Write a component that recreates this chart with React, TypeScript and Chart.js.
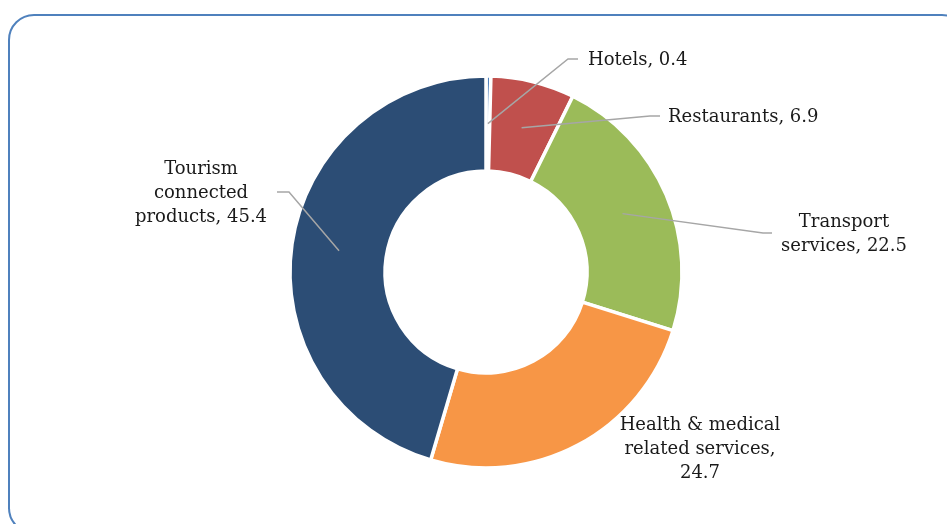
import React, { useEffect, useRef } from "react";
import { Chart, registerables } from "chart.js";

Chart.register(...registerables);

const categories = [
  "Hotels",
  "Restaurants",
  "Transport services",
  "Health & medical related services",
  "Tourism connected products",
];
const values = [0.4, 6.9, 22.5, 24.7, 45.4];
const colors = ["#4F81BD", "#C0504D", "#9BBB59", "#F79646", "#2C4D75"];
// number of words per label line
const labelWordGroups = [[2], [2], [1, 2], [3, 2, 1], [1, 1, 2]];

// label placement relative to the doughnut centre
const labelPlacement = [
  { x: 102, y: -212, align: "left", elbow: [82, -213], end: [92, -213] },
  { x: 182, y: -155, align: "left", elbow: [164, -156], end: [174, -156] },
  { x: 358, y: -38, align: "center", elbow: [277, -39], end: [286, -39] },
  { x: 214, y: 177, align: "center", elbow: null, end: null },
  { x: -285, y: -79, align: "center", elbow: [-197, -80], end: [-209, -80] },
];

function buildLines(i: number): string[] {
  const words = `${categories[i]}, ${values[i].toFixed(1)}`.split(" ");
  const out: string[] = [];
  let k = 0;
  for (const n of labelWordGroups[i]) {
    out.push(words.slice(k, k + n).join(" "));
    k += n;
  }
  return out;
}

const labelPlugin = {
  id: "calloutLabels",
  afterDatasetsDraw(chart: any) {
    const ctx = chart.ctx;
    const meta = chart.getDatasetMeta(0);
    ctx.save();
    meta.data.forEach((arc: any, i: number) => {
      const p = arc.getProps(["x", "y", "startAngle", "endAngle", "innerRadius", "outerRadius"], true);
      const cx = p.x;
      const cy = p.y;
      const mid = (p.startAngle + p.endAngle) / 2;
      const r = (p.innerRadius + p.outerRadius) / 2;
      const ax = cx + Math.cos(mid) * r;
      const ay = cy + Math.sin(mid) * r;
      const pl = labelPlacement[i];
      if (pl.elbow && pl.end) {
        ctx.beginPath();
        ctx.strokeStyle = "#A6A6A6";
        ctx.lineWidth = 1.5;
        ctx.moveTo(ax, ay);
        ctx.lineTo(cx + pl.elbow[0], cy + pl.elbow[1]);
        ctx.lineTo(cx + pl.end[0], cy + pl.end[1]);
        ctx.stroke();
      }
      const lines = buildLines(i);
      const lh = 24;
      ctx.font = '18px "DejaVu Serif"';
      ctx.fillStyle = "#1A1A1A";
      ctx.textAlign = pl.align;
      ctx.textBaseline = "middle";
      const top = cy + pl.y - ((lines.length - 1) * lh) / 2;
      lines.forEach((ln, j) => {
        ctx.fillText(ln, cx + pl.x, top + j * lh);
      });
    });
    ctx.restore();
  },
};

export default function App() {
  const ref = useRef<HTMLCanvasElement | null>(null);
  useEffect(() => {
    if (!ref.current) return;
    const chart = new Chart(ref.current, {
      type: "doughnut",
      data: {
        labels: categories,
        datasets: [
          {
            data: values,
            backgroundColor: colors,
            borderColor: "#FFFFFF",
            borderWidth: 3.5,
          },
        ],
      },
      options: {
        responsive: false,
        animation: false,
        radius: 196,
        cutout: "51.5%",
        layout: { padding: { left: 25, right: 0, top: 20, bottom: 0 } },
        plugins: {
          legend: { display: false },
          tooltip: { enabled: false },
        },
      } as any,
      plugins: [labelPlugin as any],
    });
    return () => chart.destroy();
  }, []);
  return (
    <div
      style={{
        position: "fixed",
        left: 0,
        top: 0,
        width: 947,
        height: 524,
        overflow: "hidden",
        background: "#FFFFFF",
      }}
    >
      <div
        style={{
          position: "absolute",
          left: 8,
          top: 14,
          width: 956,
          height: 516,
          border: "2px solid #4F81BD",
          borderRadius: 26,
        }}
      />
      <canvas
        ref={ref}
        width={947}
        height={524}
        style={{ position: "absolute", left: 0, top: 0, width: 947, height: 524 }}
      />
    </div>
  );
}
